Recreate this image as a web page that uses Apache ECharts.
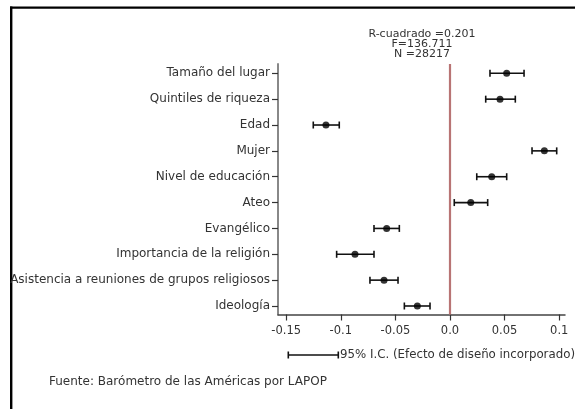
<!DOCTYPE html>
<html><head><meta charset="utf-8">
<script src="https://cdn.jsdelivr.net/npm/echarts@6/dist/echarts.min.js"></script>
<style>html,body{margin:0;padding:0;background:#fff}#c{width:575px;height:409px}</style>
</head><body><div id="c"></div>
<script>
const categories = ["Tamaño del lugar","Quintiles de riqueza","Edad","Mujer","Nivel de educación","Ateo","Evangélico","Importancia de la religión","Asistencia a reuniones de grupos religiosos","Ideología"];
const estimates = [0.0519, 0.0458, -0.1136, 0.0864, 0.0382, 0.0190, -0.0580, -0.0870, -0.0604, -0.0299];
const lower = [0.0366, 0.0327, -0.1252, 0.0751, 0.0245, 0.0039, -0.0696, -0.1038, -0.0733, -0.0418];
const upper = [0.0678, 0.0598, -0.1014, 0.0977, 0.0519, 0.0345, -0.0464, -0.0696, -0.0476, -0.0183];
const xTicks = [-0.15, -0.1, -0.05, 0, 0.05, 0.1];
const xTickLabels = ["-0.15", "-0.1", "-0.05", "0.0", "0.05", "0.1"];
const statsLines = ["R-cuadrado =0.201", "F=136.711", "N =28217"];
const legendText = "95% I.C. (Efecto de diseño incorporado)";
const sourceText = "Fuente: Barómetro de las Américas por LAPOP";

const FONT = 'DejaVu Sans';
const n = categories.length;
const yPos = categories.map((c, i) => n - i);

const chart = echarts.init(document.getElementById('c'), null, {renderer: 'canvas'});
const capH = 3.5;
const option = {
  animation: false,
  backgroundColor: '#fff',
  textStyle: {fontFamily: FONT},
  grid: {left: 278, right: 10, top: 64, bottom: 94.5, containLabel: false},
  xAxis: {
    type: 'value', min: -0.1575, max: 0.1053,
    splitLine: {show: false},
    axisLine: {show: true, onZero: false, lineStyle: {color: '#444', width: 1.5}},
    axisTick: {show: true, length: 6, lineStyle: {color: '#333', width: 1.2}, customValues: xTicks},
    axisLabel: {customValues: xTicks, margin: 11, fontSize: 11.5, color: '#333', fontFamily: FONT,
      formatter: v => { const k = xTicks.findIndex(t => Math.abs(t - v) < 1e-9); return k >= 0 ? xTickLabels[k] : ''; }}
  },
  yAxis: {
    type: 'value', min: 0.671, max: 10.36,
    splitLine: {show: false},
    axisLine: {show: true, onZero: false, lineStyle: {color: '#888', width: 2}},
    axisTick: {show: true, length: 6, lineStyle: {color: '#333', width: 1.2}, customValues: yPos},
    axisLabel: {customValues: yPos, margin: 8, fontSize: 12, color: '#333', fontFamily: FONT,
      formatter: v => categories[n - Math.round(v)] || ''}
  },
  series: [
    {
      type: 'custom',
      data: categories.map((c, i) => [lower[i], upper[i], yPos[i]]),
      encode: {x: [0, 1], y: 2},
      renderItem: function (params, api) {
        const y = api.value(2);
        const a = api.coord([api.value(0), y]);
        const b = api.coord([api.value(1), y]);
        const st = {stroke: '#111', lineWidth: 1.6};
        return {type: 'group', children: [
          {type: 'line', shape: {x1: a[0], y1: a[1], x2: b[0], y2: b[1]}, style: st},
          {type: 'line', shape: {x1: a[0], y1: a[1] - capH, x2: a[0], y2: a[1] + capH}, style: st},
          {type: 'line', shape: {x1: b[0], y1: b[1] - capH, x2: b[0], y2: b[1] + capH}, style: st}
        ]};
      },
      z: 3
    },
    {
      type: 'scatter',
      data: categories.map((c, i) => [estimates[i], yPos[i]]),
      symbol: 'circle', symbolSize: 7,
      itemStyle: {color: '#000'},
      z: 4,
      markLine: {
        silent: true, symbol: 'none', label: {show: false},
        lineStyle: {color: '#b87474', width: 2.2, type: 'solid'},
        data: [{xAxis: 0}]
      }
    }
  ],
  graphic: [
    {type: 'line', shape: {x1: 10, y1: 7.6, x2: 575, y2: 7.6}, style: {stroke: '#000', lineWidth: 2.4}},
    {type: 'line', shape: {x1: 11.2, y1: 6.4, x2: 11.2, y2: 409}, style: {stroke: '#000', lineWidth: 2.4}},
    {type: 'text', x: 422, y: 44, style: {text: statsLines.join('\n'), align: 'center', verticalAlign: 'middle', fontSize: 11, lineHeight: 10, fill: '#333', fontFamily: FONT}},
    {type: 'line', shape: {x1: 288.3, y1: 355, x2: 338.3, y2: 355}, style: {stroke: '#111', lineWidth: 1.6}},
    {type: 'line', shape: {x1: 288.3, y1: 355 - capH, x2: 288.3, y2: 355 + capH}, style: {stroke: '#111', lineWidth: 1.6}},
    {type: 'line', shape: {x1: 338.3, y1: 355 - capH, x2: 338.3, y2: 355 + capH}, style: {stroke: '#111', lineWidth: 1.6}},
    {type: 'text', x: 340, y: 355, style: {text: legendText, align: 'left', verticalAlign: 'middle', fontSize: 11.8, fill: '#333', fontFamily: FONT}},
    {type: 'text', x: 49, y: 382, style: {text: sourceText, align: 'left', verticalAlign: 'middle', fontSize: 12, fill: '#333', fontFamily: FONT}}
  ]
};
chart.setOption(option);
</script>
</body></html>
